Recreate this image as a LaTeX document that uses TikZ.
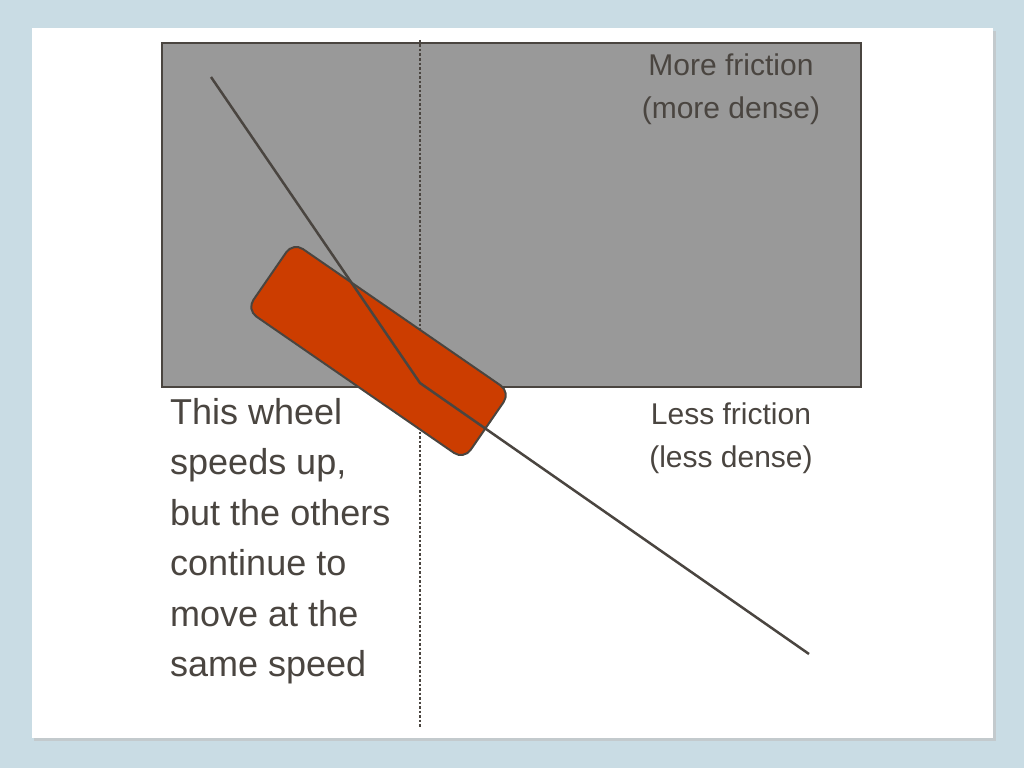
\documentclass[tikz,border=0pt]{standalone}
\usepackage{fontspec}
\setmainfont{Liberation Sans}
\definecolor{bg}{HTML}{C9DCE4}
\definecolor{ink}{HTML}{4A4540}
\definecolor{wheel}{HTML}{CC3D00}
\definecolor{zone}{HTML}{999999}
\begin{document}
\begin{tikzpicture}[x=1pt,y=-1pt,
  lbl/.style={text=ink,align=center,font=\fontsize{30}{43}\selectfont},
  big/.style={text=ink,align=left,font=\fontsize{36}{50.5}\selectfont,anchor=north west,inner sep=0pt}]
\useasboundingbox (0,0) rectangle (1024,768);
\fill[bg] (0,0) rectangle (1024,768);
\fill[black!25,opacity=0.6] (34,31) rectangle (996,741);
\fill[white] (32,28) rectangle (993,738);
\node[draw=ink,line width=2pt,fill=zone,minimum width=699pt,minimum height=344pt,inner sep=0pt] (dense) at (511.5,215) {};
\coordinate (top) at (420,40);
\coordinate (bot) at (420,728);
\draw[ink,line width=2.5pt,dotted] (top) -- (bot);
\node[draw=ink,line width=2pt,fill=wheel,rounded corners=12pt,minimum width=264pt,minimum height=82pt,rotate=-34.6] (w) at (378.5,351) {};
\coordinate (a) at (211,77);
\coordinate (k) at (420,383);
\coordinate (b) at (809,654);
\draw[ink,line width=2.5pt] (a) -- (k) -- (b);
\node[lbl] (more) at (731,89) {More friction\\(more dense)};
\node[lbl] (less) at (731,438) {Less friction\\(less dense)};
\node[big] (txt) at (170,398) {This wheel\\speeds up,\\but the others\\continue to\\move at the\\same speed};
\end{tikzpicture}
\end{document}
